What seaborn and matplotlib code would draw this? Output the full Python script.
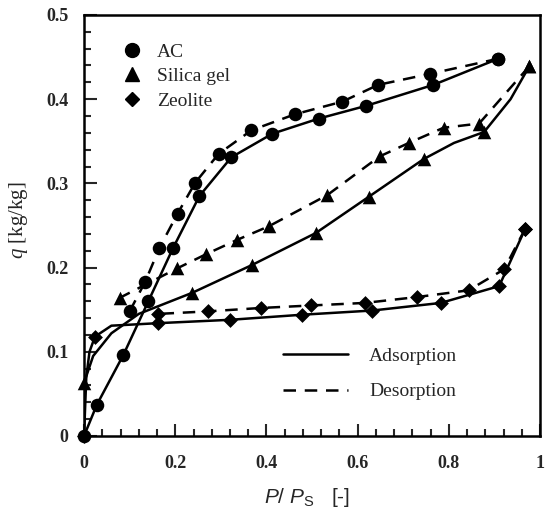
import numpy as np
import seaborn as sns
import matplotlib.pyplot as plt
from matplotlib.lines import Line2D
from matplotlib.ticker import MultipleLocator

# AC (activated carbon)
ac_ads_x = [0, 0.028, 0.086, 0.141, 0.195, 0.253, 0.323, 0.413, 0.515, 0.618, 0.766, 0.908]
ac_ads_y = [0, 0.037, 0.096, 0.160, 0.223, 0.285, 0.331, 0.359, 0.377, 0.392, 0.417, 0.448]
ac_des_x = [0.908, 0.758, 0.645, 0.566, 0.462, 0.367, 0.295, 0.244, 0.205, 0.165, 0.134, 0.100]
ac_des_y = [0.448, 0.430, 0.417, 0.397, 0.382, 0.363, 0.335, 0.301, 0.264, 0.223, 0.183, 0.148]

# Silica gel: curve path and measured points
sg_ads_line_x = [0, 0.02, 0.06, 0.12, 0.237, 0.368, 0.508, 0.624, 0.745, 0.811, 0.877, 0.935, 0.976]
sg_ads_line_y = [0.063, 0.095, 0.122, 0.145, 0.170, 0.203, 0.241, 0.284, 0.329, 0.348, 0.361, 0.400, 0.439]
sg_ads_x = [0, 0.237, 0.368, 0.508, 0.624, 0.745, 0.877, 0.976]
sg_ads_y = [0.063, 0.170, 0.203, 0.241, 0.284, 0.329, 0.361, 0.439]
sg_des_x = [0.976, 0.866, 0.788, 0.712, 0.648, 0.533, 0.405, 0.336, 0.268, 0.204, 0.078]
sg_des_y = [0.439, 0.371, 0.366, 0.348, 0.332, 0.286, 0.249, 0.233, 0.216, 0.199, 0.164]

# Zeolite
zt_ads_line_x = [0, 0.005, 0.012, 0.024, 0.06, 0.163, 0.321, 0.478, 0.632, 0.782, 0.91, 0.967]
zt_ads_line_y = [0, 0.07, 0.10, 0.118, 0.131, 0.134, 0.138, 0.144, 0.149, 0.158, 0.178, 0.246]
zt_ads_x = [0, 0.024, 0.163, 0.321, 0.478, 0.632, 0.782, 0.91, 0.967]
zt_ads_y = [0, 0.118, 0.134, 0.138, 0.144, 0.149, 0.158, 0.178, 0.246]
zt_des_x = [0.967, 0.921, 0.843, 0.73, 0.615, 0.498, 0.387, 0.272, 0.163]
zt_des_y = [0.246, 0.198, 0.173, 0.165, 0.158, 0.155, 0.152, 0.148, 0.145]

x_ticks = [0, 0.2, 0.4, 0.6, 0.8, 1.0]
x_labels = ["0", "0.2", "0.4", "0.6", "0.8", "1"]
y_ticks = [0, 0.1, 0.2, 0.3, 0.4, 0.5]
y_labels = ["0", "0.1", "0.2", "0.3", "0.4", "0.5"]

sns.set_style("white")
plt.rcParams["font.family"] = ["Liberation Serif", "DejaVu Serif"]
plt.rcParams["mathtext.fontset"] = "custom"
plt.rcParams["mathtext.it"] = "Liberation Sans:italic"
plt.rcParams["mathtext.rm"] = "Liberation Sans"
plt.rcParams["mathtext.bf"] = "Liberation Serif:italic"

fig = plt.figure(figsize=(5.47, 5.15), dpi=100)
ax = fig.add_axes([0.1536, 0.1534, 0.834, 0.8176])

lw = 1.8
dash = (0, (5, 3.5))
ms = 95

sns.lineplot(x=ac_ads_x, y=ac_ads_y, sort=False, estimator=None, color="black", lw=lw, ax=ax)
sns.lineplot(x=ac_des_x, y=ac_des_y, sort=False, estimator=None, color="black", lw=lw, linestyle=dash, ax=ax)
sns.lineplot(x=sg_ads_line_x, y=sg_ads_line_y, sort=False, estimator=None, color="black", lw=lw, ax=ax)
sns.lineplot(x=sg_des_x, y=sg_des_y, sort=False, estimator=None, color="black", lw=lw, linestyle=dash, ax=ax)
sns.lineplot(x=zt_ads_line_x, y=zt_ads_line_y, sort=False, estimator=None, color="black", lw=lw, ax=ax)
sns.lineplot(x=zt_des_x, y=zt_des_y, sort=False, estimator=None, color="black", lw=lw, linestyle=dash, ax=ax)

sns.scatterplot(x=ac_ads_x + ac_des_x, y=ac_ads_y + ac_des_y, marker="o", s=ms,
                color="black", edgecolor="black", linewidth=0, ax=ax, zorder=3, clip_on=False)
sns.scatterplot(x=sg_ads_x + sg_des_x, y=sg_ads_y + sg_des_y, marker="^", s=ms,
                color="black", edgecolor="black", linewidth=0, ax=ax, zorder=3, clip_on=False)
sns.scatterplot(x=zt_ads_x + zt_des_x, y=zt_ads_y + zt_des_y, marker="D", s=ms * 0.6,
                color="black", edgecolor="black", linewidth=0, ax=ax, zorder=3, clip_on=False)

ax.set_xlim(0, 1)
ax.set_ylim(0, 0.5)
ax.set_xticks(x_ticks)
ax.set_xticklabels(x_labels)
ax.set_yticks(y_ticks)
ax.set_yticklabels(y_labels)
ax.xaxis.set_minor_locator(MultipleLocator(0.04))
ax.yaxis.set_minor_locator(MultipleLocator(0.02))
ax.tick_params(which="both", direction="in", width=1.5, top=False, right=False,
               left=True, bottom=True)
ax.tick_params(which="major", length=9, labelsize=13)
ax.tick_params(which="minor", length=5)
ax.tick_params(axis="x", which="major", pad=14)
ax.tick_params(axis="y", which="major", pad=11)
for lab in ax.get_xticklabels() + ax.get_yticklabels():
    lab.set_fontweight("bold")
for sp in ax.spines.values():
    sp.set_linewidth(1.8)
    sp.set_color("black")

ax.set_xlabel(r"$P/\ P_{\mathrm{S}}$   [-]", fontsize=15, family="Liberation Sans")
ax.xaxis.set_label_coords(0.489, -0.119)
ax.set_ylabel(r"$\mathbf{q}$ [kg/kg]", fontsize=15)
ax.yaxis.set_label_coords(-0.118, 0.513)

mk_handles = [
    Line2D([], [], marker="o", color="black", ls="none", markersize=10),
    Line2D([], [], marker="^", color="black", ls="none", markersize=10),
    Line2D([], [], marker="D", color="black", ls="none", markersize=7),
]
leg1 = ax.legend(mk_handles, ["AC", "Silica gel", "Zeolite"], loc="upper left",
                 bbox_to_anchor=(0.083, 0.9335), frameon=False, fontsize=14,
                 handlelength=1, handletextpad=0.8, labelspacing=0.36,
                 borderaxespad=0, borderpad=0)
ax.add_artist(leg1)

ln_handles = [
    Line2D([], [], color="black", lw=lw),
    Line2D([], [], color="black", lw=lw, linestyle=dash),
]
ax.legend(ln_handles, ["Adsorption", "Desorption"], loc="upper left",
          bbox_to_anchor=(0.436, 0.211), frameon=False, fontsize=14,
          handlelength=3.35, handletextpad=1.08, labelspacing=0.93,
          borderaxespad=0, borderpad=0)

fig.savefig("out.png", dpi=100)
